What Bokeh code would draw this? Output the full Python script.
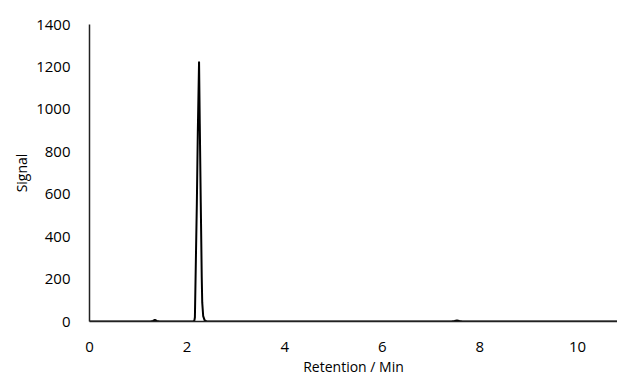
from bokeh.plotting import figure
from bokeh.models import Range1d, FixedTicker
from bokeh.embed import file_html
from bokeh.resources import INLINE

# Chromatogram trace
retention = [0.0, 1.25, 1.30, 1.34, 1.38, 1.43, 2.12, 2.15, 2.16, 2.18, 2.20, 2.22, 2.245,
             2.26, 2.28, 2.30, 2.31, 2.33, 2.36, 2.40, 7.42, 7.48, 7.53, 7.58, 7.64, 10.85]
signal = [0, 0, 3, 8, 3, 0, 0, 5, 20, 290, 560, 900, 1225,
          930, 560, 210, 90, 25, 5, 0, 0, 2, 5, 2, 0, 0]

x_ticks = [0, 2, 4, 6, 8, 10]
y_ticks = [0, 200, 400, 600, 800, 1000, 1200, 1400]

FONT = "Open Sans"

p = figure(width=617, height=378, output_backend="svg", toolbar_location=None,
           x_range=Range1d(0, 10.82), y_range=Range1d(0, 1400),
           min_border_left=89, min_border_right=0, min_border_top=24, min_border_bottom=56)
p.outline_line_color = None
p.xgrid.visible = False
p.ygrid.visible = False

p.line(retention, signal, line_color="black", line_width=2)

for ax in (p.xaxis[0], p.yaxis[0]):
    ax.axis_line_color = "#222222"
    ax.axis_line_width = 1.5
    ax.major_tick_line_color = None
    ax.minor_tick_line_color = None
    ax.major_label_text_font = FONT
    ax.major_label_text_font_size = "15px"
    ax.major_label_text_color = "#000000"
    ax.axis_label_text_font = FONT
    ax.axis_label_text_font_size = "14px"
    ax.axis_label_text_font_style = "normal"
    ax.axis_label_text_color = "#000000"

p.xaxis.ticker = FixedTicker(ticks=x_ticks)
p.yaxis.ticker = FixedTicker(ticks=y_ticks)
p.xaxis.axis_label = "Retention / Min"
p.yaxis.axis_label = "Signal"
p.xaxis.major_label_standoff = 14
p.xaxis.axis_label_standoff = 2
p.yaxis.major_label_standoff = 13
p.yaxis.axis_label_standoff = 2

open("out.html", "w").write(file_html(p, INLINE))
